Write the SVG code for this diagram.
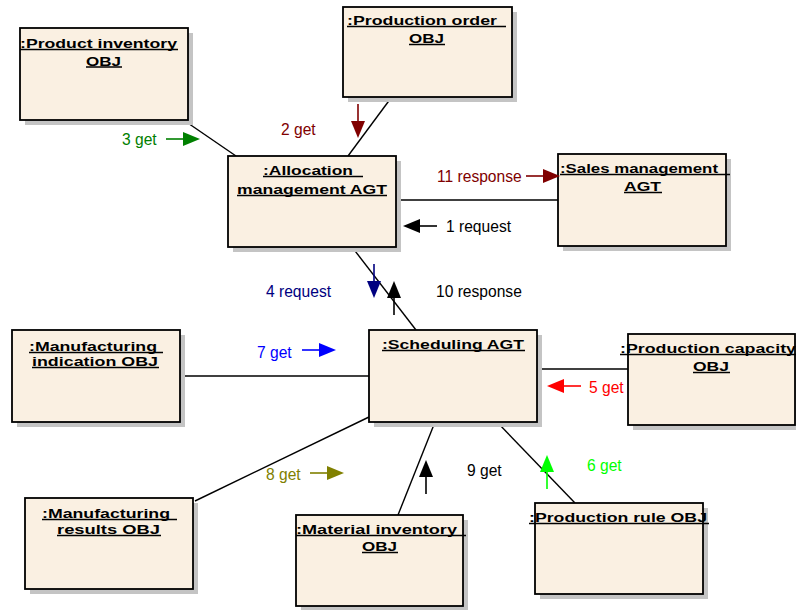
<svg xmlns="http://www.w3.org/2000/svg" xmlns:xlink="http://www.w3.org/1999/xlink" width="796" height="610" viewBox="0 0 796 610">
  <style>
    .box { fill: #faf0e2; stroke: #000; stroke-width: 1.8; }
    .shadow { fill: #c4c4c4; }
    .title { font-family: "Liberation Sans", Arial, sans-serif; font-size: 13px; font-weight: bold; fill: #000; }
    .ul { stroke: #000; stroke-width: 1.3; }
    .link { stroke: #000; stroke-width: 1.4; fill: none; }
    .msg { font-family: "Liberation Sans", Arial, sans-serif; font-size: 15.6px; }
  </style>
  <defs>
    <!-- message arrow pointing right, tip at origin -->
    <g id="arrow">
      <line x1="-34" y1="0" x2="-15" y2="0" stroke-width="1.6"/>
      <polygon points="0,0 -17,-7 -17,7" stroke="none"/>
    </g>
  </defs>

  <rect width="796" height="610" fill="#fff"/>

  <!-- links between objects -->
  <g id="connectors">
    <line class="link" x1="182" y1="119" x2="236" y2="156"/>
    <line class="link" x1="391" y1="98" x2="348" y2="156"/>
    <line class="link" x1="396" y1="200" x2="558" y2="200"/>
    <line class="link" x1="352" y1="247" x2="416" y2="330"/>
    <line class="link" x1="180" y1="376" x2="369" y2="376"/>
    <line class="link" x1="537" y1="369" x2="628" y2="369"/>
    <line class="link" x1="195" y1="501" x2="369" y2="417"/>
    <line class="link" x1="435" y1="422" x2="398" y2="515"/>
    <line class="link" x1="497" y1="422" x2="575" y2="503"/>
  </g>

  <g id="product-inventory">
    <rect class="shadow" x="25" y="33" width="168" height="92"/>
    <rect class="box" x="20" y="28" width="168" height="92"/>
    <text class="title" x="20" y="48" textLength="157" lengthAdjust="spacingAndGlyphs">:Product inventory</text>
    <line class="ul" x1="20" y1="49.5" x2="178" y2="49.5"/>
    <text class="title" x="86" y="65.5" textLength="35" lengthAdjust="spacingAndGlyphs">OBJ</text>
    <line class="ul" x1="86" y1="67" x2="122" y2="67"/>
  </g>

  <g id="production-order">
    <rect class="shadow" x="348" y="12" width="169" height="90"/>
    <rect class="box" x="343" y="7" width="169" height="90"/>
    <text class="title" x="347" y="25" textLength="150" lengthAdjust="spacingAndGlyphs">:Production order</text>
    <line class="ul" x1="347" y1="26.5" x2="506" y2="26.5"/>
    <text class="title" x="409" y="43" textLength="35" lengthAdjust="spacingAndGlyphs">OBJ</text>
    <line class="ul" x1="409" y1="44.5" x2="445" y2="44.5"/>
  </g>

  <g id="allocation-management">
    <rect class="shadow" x="233" y="161" width="168" height="91"/>
    <rect class="box" x="228" y="156" width="168" height="91"/>
    <text class="title" x="263" y="175" textLength="90" lengthAdjust="spacingAndGlyphs">:Allocation</text>
    <line class="ul" x1="263" y1="176.5" x2="363" y2="176.5"/>
    <text class="title" x="237" y="194" textLength="150" lengthAdjust="spacingAndGlyphs">management AGT</text>
    <line class="ul" x1="237" y1="195.5" x2="387" y2="195.5"/>
  </g>

  <g id="sales-management">
    <rect class="shadow" x="563" y="159" width="168" height="92"/>
    <rect class="box" x="558" y="154" width="168" height="92"/>
    <text class="title" x="560" y="173" textLength="158" lengthAdjust="spacingAndGlyphs">:Sales management</text>
    <line class="ul" x1="560" y1="174.5" x2="730" y2="174.5"/>
    <text class="title" x="624" y="191" textLength="37" lengthAdjust="spacingAndGlyphs">AGT</text>
    <line class="ul" x1="624" y1="192.5" x2="662" y2="192.5"/>
  </g>

  <g id="scheduling">
    <rect class="shadow" x="374" y="335" width="168" height="92"/>
    <rect class="box" x="369" y="330" width="168" height="92"/>
    <text class="title" x="382" y="349" textLength="142" lengthAdjust="spacingAndGlyphs">:Scheduling AGT</text>
    <line class="ul" x1="382" y1="350.5" x2="525" y2="350.5"/>
  </g>

  <g id="manufacturing-indication">
    <rect class="shadow" x="17" y="335" width="168" height="92"/>
    <rect class="box" x="12" y="330" width="168" height="92"/>
    <text class="title" x="29" y="351" textLength="128" lengthAdjust="spacingAndGlyphs">:Manufacturing</text>
    <line class="ul" x1="29" y1="352.5" x2="163" y2="352.5"/>
    <text class="title" x="32" y="366" textLength="126" lengthAdjust="spacingAndGlyphs">indication OBJ</text>
    <line class="ul" x1="32" y1="367.5" x2="159" y2="367.5"/>
  </g>

  <g id="production-capacity">
    <rect class="shadow" x="633" y="339" width="167" height="91"/>
    <rect class="box" x="628" y="334" width="167" height="91"/>
    <text class="title" x="620" y="353" textLength="176" lengthAdjust="spacingAndGlyphs">:Production capacity</text>
    <line class="ul" x1="620" y1="354.5" x2="796" y2="354.5"/>
    <text class="title" x="693" y="371" textLength="36" lengthAdjust="spacingAndGlyphs">OBJ</text>
    <line class="ul" x1="693" y1="372.5" x2="730" y2="372.5"/>
  </g>

  <g id="manufacturing-results">
    <rect class="shadow" x="30" y="503" width="168" height="91"/>
    <rect class="box" x="25" y="498" width="168" height="91"/>
    <text class="title" x="42" y="518" textLength="128" lengthAdjust="spacingAndGlyphs">:Manufacturing</text>
    <line class="ul" x1="42" y1="519.5" x2="177" y2="519.5"/>
    <text class="title" x="57" y="534" textLength="103" lengthAdjust="spacingAndGlyphs">results OBJ</text>
    <line class="ul" x1="57" y1="535.5" x2="161" y2="535.5"/>
  </g>

  <g id="material-inventory">
    <rect class="shadow" x="301" y="520" width="167" height="91"/>
    <rect class="box" x="296" y="515" width="167" height="91"/>
    <text class="title" x="296" y="534" textLength="161" lengthAdjust="spacingAndGlyphs">:Material inventory</text>
    <line class="ul" x1="296" y1="535.5" x2="466" y2="535.5"/>
    <text class="title" x="362" y="551" textLength="35" lengthAdjust="spacingAndGlyphs">OBJ</text>
    <line class="ul" x1="362" y1="552.5" x2="398" y2="552.5"/>
  </g>

  <g id="production-rule">
    <rect class="shadow" x="540" y="508" width="168" height="91"/>
    <rect class="box" x="535" y="503" width="168" height="91"/>
    <text class="title" x="529" y="522" textLength="178" lengthAdjust="spacingAndGlyphs">:Production rule OBJ</text>
    <line class="ul" x1="529" y1="523.5" x2="709" y2="523.5"/>
  </g>

  <!-- numbered messages -->
  <g id="messages">
    <use xlink:href="#arrow" href="#arrow" transform="translate(403,226) rotate(180)" fill="#000" stroke="#000"/>
    <text class="msg" x="446" y="232" fill="#000">1 request</text>

    <use xlink:href="#arrow" href="#arrow" transform="translate(358,138) rotate(90)" fill="#800000" stroke="#800000"/>
    <text class="msg" x="281" y="135" fill="#800000">2 get</text>

    <use xlink:href="#arrow" href="#arrow" transform="translate(200,139)" fill="#008000" stroke="#008000"/>
    <text class="msg" x="122" y="145" fill="#008000">3 get</text>

    <use xlink:href="#arrow" href="#arrow" transform="translate(374,298) rotate(90)" fill="#000080" stroke="#000080"/>
    <text class="msg" x="266" y="297" fill="#000080">4 request</text>

    <use xlink:href="#arrow" href="#arrow" transform="translate(547,386) rotate(180)" fill="#ff0000" stroke="#ff0000"/>
    <text class="msg" x="589" y="393" fill="#ff0000">5 get</text>

    <use xlink:href="#arrow" href="#arrow" transform="translate(547,455) rotate(-90)" fill="#00ff00" stroke="#00ff00"/>
    <text class="msg" x="587" y="471" fill="#00ff00">6 get</text>

    <use xlink:href="#arrow" href="#arrow" transform="translate(336,350)" fill="#0000ff" stroke="#0000ff"/>
    <text class="msg" x="257" y="358" fill="#0000ff">7 get</text>

    <use xlink:href="#arrow" href="#arrow" transform="translate(344,473)" fill="#808000" stroke="#808000"/>
    <text class="msg" x="266" y="480" fill="#808000">8 get</text>

    <use xlink:href="#arrow" href="#arrow" transform="translate(426,460) rotate(-90)" fill="#000" stroke="#000"/>
    <text class="msg" x="467" y="476" fill="#000">9 get</text>

    <use xlink:href="#arrow" href="#arrow" transform="translate(394,281) rotate(-90)" fill="#000" stroke="#000"/>
    <text class="msg" x="436" y="297" fill="#000">10 response</text>

    <use xlink:href="#arrow" href="#arrow" transform="translate(560,176)" fill="#800000" stroke="#800000"/>
    <text class="msg" x="437" y="182" fill="#800000">11 response</text>
  </g>
</svg>
